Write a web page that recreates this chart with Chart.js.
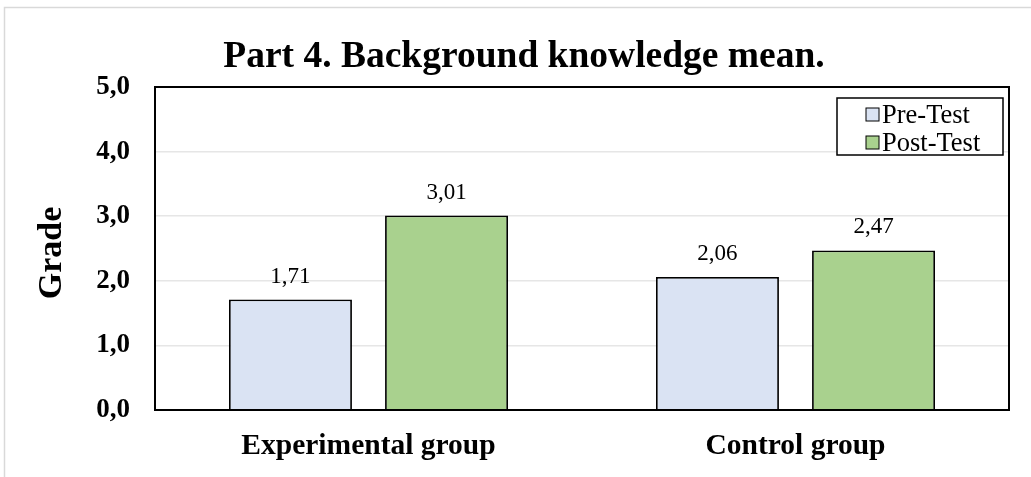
<!DOCTYPE html>
<html>
<head>
<meta charset="utf-8">
<script src="https://cdn.jsdelivr.net/npm/chart.js@4.4.1/dist/chart.umd.min.js"></script>
<style>
html,body{margin:0;padding:0;background:#fff;}
#wrap{width:1031px;height:477px;position:relative;}
</style>
</head>
<body>
<div id="wrap"><canvas id="c" width="1031" height="477"></canvas></div>
<script>
const titleText = "Part 4. Background knowledge mean.";
const yAxisTitle = "Grade";
const categories = ["Experimental group", "Control group"];
const seriesNames = ["Pre-Test", "Post-Test"];
const preTest = [1.71, 2.06];
const postTest = [3.01, 2.47];
const yTicks = [0, 1, 2, 3, 4, 5];
const colors = ["#dae3f3", "#a9d18e"];

const FONT = "'Liberation Serif', 'Times New Roman', serif";

const decorPlugin = {
  id: 'decor',
  beforeDraw(chart) {
    const ctx = chart.ctx;
    ctx.save();
    ctx.fillStyle = '#fff';
    ctx.fillRect(0, 0, chart.width, chart.height);
    ctx.strokeStyle = '#d9d9d9';
    ctx.lineWidth = 1.5;
    ctx.beginPath();
    ctx.moveTo(4.5, chart.height);
    ctx.lineTo(4.5, 7.5);
    ctx.lineTo(chart.width, 7.5);
    ctx.stroke();
    // title
    ctx.fillStyle = '#000';
    ctx.font = "bold 37.5px " + FONT;
    ctx.textAlign = 'center';
    ctx.textBaseline = 'alphabetic';
    ctx.fillText(titleText, 524, 67);
    // y axis title
    ctx.save();
    ctx.translate(61, 253);
    ctx.rotate(-Math.PI / 2);
    ctx.font = "bold 34px " + FONT;
    ctx.textAlign = 'center';
    ctx.fillText(yAxisTitle, 0, 0);
    ctx.restore();
    ctx.restore();
  },
  afterDatasetsDraw(chart) {
    const ctx = chart.ctx;
    const a = chart.chartArea;
    ctx.save();
    // plot border
    ctx.strokeStyle = '#000';
    ctx.lineWidth = 2;
    ctx.strokeRect(a.left, a.top, a.right - a.left, a.bottom - a.top);
    // data labels
    ctx.fillStyle = '#000';
    ctx.font = "23px " + FONT;
    ctx.textAlign = 'center';
    ctx.textBaseline = 'alphabetic';
    chart.data.datasets.forEach((ds, di) => {
      const meta = chart.getDatasetMeta(di);
      meta.data.forEach((bar, i) => {
        const v = ds.data[i];
        ctx.fillText(v.toFixed(2).replace('.', ','), bar.x, bar.y - 17);
      });
    });
    // legend
    const lx = 837, ly = 98, lw = 166, lh = 57;
    ctx.fillStyle = '#fff';
    ctx.fillRect(lx, ly, lw, lh);
    ctx.strokeStyle = '#000';
    ctx.lineWidth = 1.5;
    ctx.strokeRect(lx, ly, lw, lh);
    ctx.font = "26.5px " + FONT;
    ctx.textAlign = 'left';
    chart.data.datasets.forEach((ds, di) => {
      const cy = 114 + di * 28;
      ctx.fillStyle = ds.backgroundColor;
      ctx.fillRect(866, cy - 6, 13, 13);
      ctx.strokeStyle = '#000';
      ctx.lineWidth = 1;
      ctx.strokeRect(866, cy - 6, 13, 13);
      ctx.fillStyle = '#000';
      ctx.fillText(ds.label, 882, cy + 9);
    });
    ctx.restore();
  }
};

new Chart(document.getElementById('c'), {
  type: 'bar',
  data: {
    labels: categories,
    datasets: [
      { label: seriesNames[0], data: preTest, backgroundColor: colors[0], borderColor: '#000', borderWidth: 1.8 },
      { label: seriesNames[1], data: postTest, backgroundColor: colors[1], borderColor: '#000', borderWidth: 1.8 }
    ]
  },
  options: {
    responsive: false,
    animation: false,
    devicePixelRatio: 1,
    layout: { padding: { left: 0, top: 87, right: 22, bottom: 0 } },
    categoryPercentage: 0.731,
    barPercentage: 0.788,
    plugins: {
      legend: { display: false },
      title: { display: false },
      tooltip: { enabled: false }
    },
    scales: {
      x: {
        grid: { display: false, drawTicks: false },
        border: { display: false },
        ticks: { color: '#000', font: { family: FONT, size: 29.5, weight: 'bold' }, padding: 19 },
        afterFit(scale) { scale.height = 67; }
      },
      y: {
        min: 0, max: 5,
        afterBuildTicks(scale) { scale.ticks = yTicks.map(v => ({ value: v })); },
        grid: { color: '#e6e6e6', lineWidth: 1.5, drawTicks: false },
        border: { display: false },
        ticks: {
          color: '#000',
          padding: 25,
          font: { family: FONT, size: 27, weight: 'bold' },
          callback: v => Number(v).toFixed(1).replace('.', ',')
        },
        afterFit(scale) { scale.width = 155; }
      }
    }
  },
  plugins: [decorPlugin]
});
</script>
</body>
</html>
